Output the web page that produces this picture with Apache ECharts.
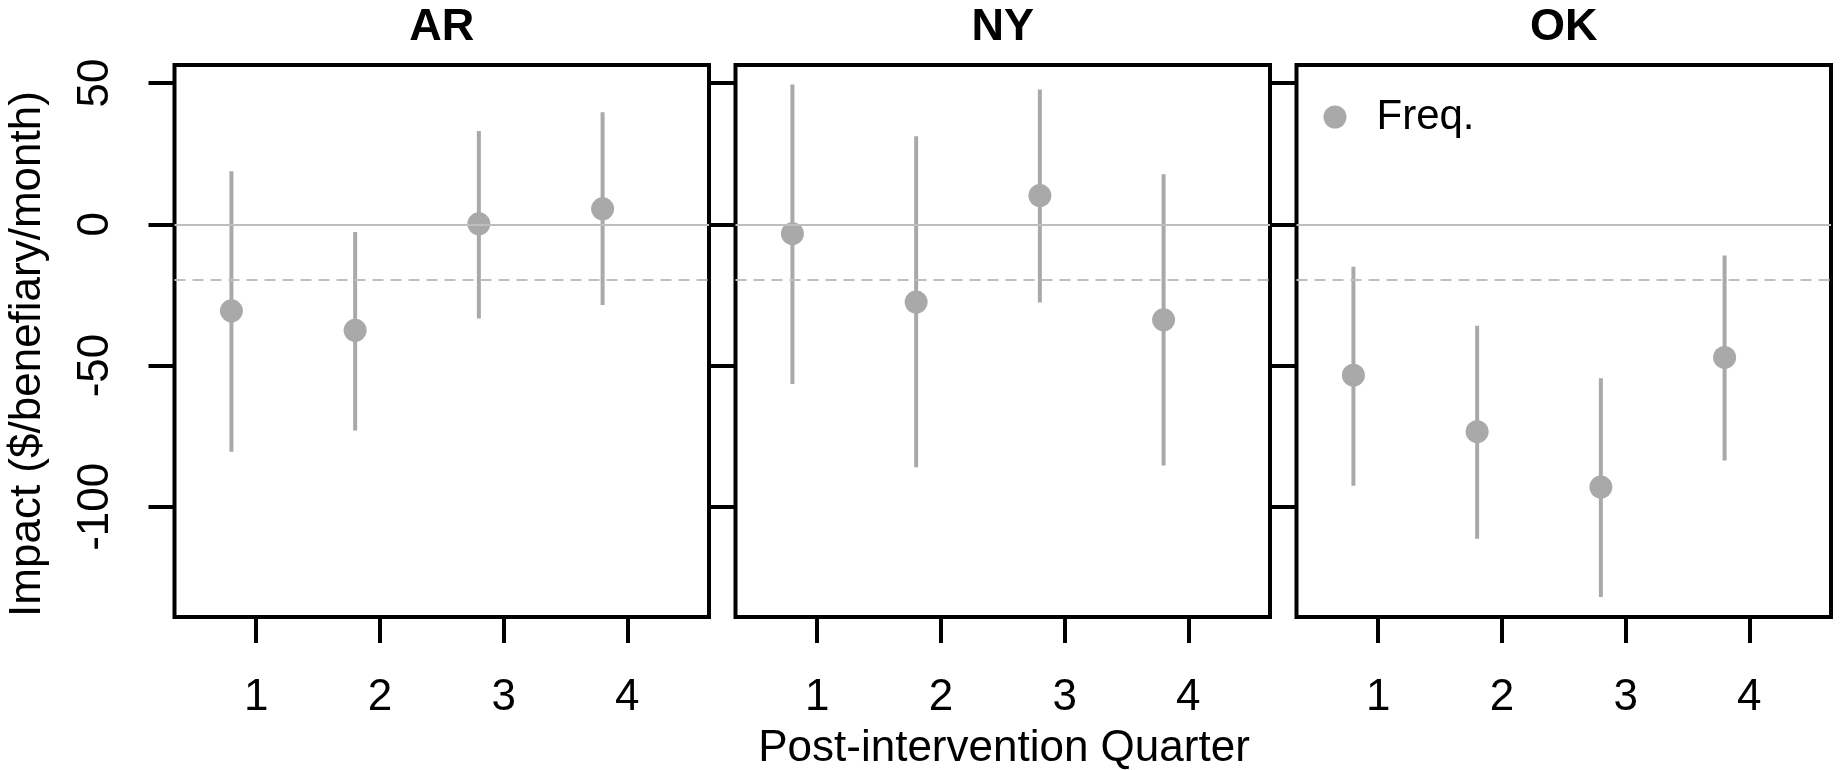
<!DOCTYPE html>
<html>
<head>
<meta charset="utf-8">
<script src="https://cdn.jsdelivr.net/npm/echarts@6/dist/echarts.min.js"></script>
<style>
  html, body { margin: 0; padding: 0; background: #fff; }
  #chart { width: 1841px; height: 770px; }
</style>
</head>
<body>
<div id="chart"></div>
<script>
// ---- data ----
const states = ['AR', 'NY', 'OK'];
const quarters = [1, 2, 3, 4];
const dodge = -0.2;               // points drawn slightly left of each quarter tick
const arEst = [-30.6, -37.5, 0.2, 5.5];
const arLo  = [-80.5, -73.0, -33.3, -28.6];
const arHi  = [18.8, -2.7, 33.0, 39.7];
const nyEst = [-3.3, -27.5, 10.2, -33.8];
const nyLo  = [-56.5, -86.0, -27.7, -85.4];
const nyHi  = [49.5, 31.2, 47.7, 17.7];
const okEst = [-53.4, -73.4, -93.0, -47.1];
const okLo  = [-92.5, -111.3, -131.9, -83.6];
const okHi  = [-15.0, -35.9, -54.5, -11.0];
const yTicks = [-100, -50, 0, 50];
const xTicks = [1, 2, 3, 4];
const zeroLine = 0;
const refLine = -19.5;
const seriesName = 'Freq.';
const yName = 'Impact ($/benefiary/month)';
const xName = 'Post-intervention Quarter';

const est = [arEst, nyEst, okEst];
const lo = [arLo, nyLo, okLo];
const hi = [arHi, nyHi, okHi];

// ---- layout ----
const FONT = '"Liberation Sans", Arial, Helvetica, sans-serif';
const PT = '#A9A9A9';
const REF = '#BEBEBE';
const FS = 44;
const gridTop = 65, gridH = 552, gridW = 534.5;
const gridLefts = [174.5, 735.5, 1296.5];

const grids = gridLefts.map(l => ({
  left: l, top: gridTop, width: gridW, height: gridH,
  show: true, borderColor: '#000', borderWidth: 4, backgroundColor: 'transparent',
  containLabel: false, outerBoundsMode: 'none'
}));

const xAxes = gridLefts.map((l, i) => ({
  type: 'value', gridIndex: i, min: 0.34, max: 4.66, position: 'bottom',
  splitLine: { show: false },
  axisLine: { show: false, onZero: false },
  axisTick: { show: true, customValues: xTicks, length: 26, lineStyle: { color: '#000', width: 4 } },
  axisLabel: { show: true, customValues: xTicks, margin: 59, fontSize: FS, lineHeight: FS,
               color: '#000', fontFamily: FONT, formatter: v => String(v) }
}));

const yAxes = gridLefts.map((l, i) => ({
  type: 'value', gridIndex: i, min: -139, max: 56.4, position: 'left',
  splitLine: { show: false },
  axisLine: { show: false, onZero: false },
  axisTick: { show: true, customValues: yTicks, length: 26, lineStyle: { color: '#000', width: 4 } },
  axisLabel: { show: i === 0, customValues: yTicks, rotate: 90, margin: 57, fontSize: FS, lineHeight: FS,
               color: '#000', fontFamily: FONT, formatter: v => String(v) }
}));

const series = [];
states.forEach((s, i) => {
  series.push({
    type: 'line', xAxisIndex: i, yAxisIndex: i, data: [], z: 1, silent: true,
    markLine: {
      silent: true, symbol: ['none', 'none'], label: { show: false }, animation: false,
      data: [
        { yAxis: zeroLine, lineStyle: { type: 'solid', color: REF, width: 2 } },
        { yAxis: refLine, lineStyle: { type: [11, 7], color: REF, width: 2 } }
      ]
    }
  });
  series.push({
    type: 'custom', xAxisIndex: i, yAxisIndex: i, z: 2, silent: true,
    data: quarters.map((q, j) => [q + dodge, lo[i][j], hi[i][j]]),
    encode: { x: 0, y: [1, 2] },
    renderItem: (params, api) => {
      const x = api.value(0);
      const p1 = api.coord([x, api.value(1)]);
      const p2 = api.coord([x, api.value(2)]);
      return { type: 'line', shape: { x1: p1[0], y1: p1[1], x2: p2[0], y2: p2[1] },
               style: { stroke: PT, lineWidth: 4 } };
    }
  });
  series.push({
    type: 'scatter', name: seriesName, xAxisIndex: i, yAxisIndex: i, z: 3,
    symbol: 'circle', symbolSize: 23, itemStyle: { color: PT, opacity: 1 },
    data: quarters.map((q, j) => [q + dodge, est[i][j]])
  });
});

const graphics = [];
states.forEach((s, i) => {
  graphics.push({
    type: 'text', x: gridLefts[i] + gridW / 2, y: 27.7, silent: true,
    style: { text: s, fill: '#000', fontSize: 45, fontWeight: 'bold', fontFamily: FONT,
             align: 'center', verticalAlign: 'middle' }
  });
});
graphics.push({
  type: 'text', x: 28, y: 354, rotation: Math.PI / 2, silent: true,
  style: { text: yName, fill: '#000', fontSize: FS, fontFamily: FONT, align: 'center', verticalAlign: 'middle' }
});
graphics.push({
  type: 'text', x: 1004, y: 749, silent: true,
  style: { text: xName, fill: '#000', fontSize: FS, fontFamily: FONT, align: 'center', verticalAlign: 'middle' }
});

const chart = echarts.init(document.getElementById('chart'), null, { renderer: 'canvas' });
chart.setOption({
  backgroundColor: '#fff',
  animation: false,
  grid: grids,
  xAxis: xAxes,
  yAxis: yAxes,
  legend: {
    data: [{ name: seriesName, icon: 'circle', itemStyle: { color: PT } }],
    left: 1323.5, top: 96, padding: 0, itemWidth: 23, itemHeight: 23,
    selectedMode: false,
    textStyle: { fontSize: 42, lineHeight: 42, color: '#000', fontFamily: FONT, padding: [0, 0, 0, 25] }
  },
  series: series,
  graphic: graphics
});
</script>
</body>
</html>
